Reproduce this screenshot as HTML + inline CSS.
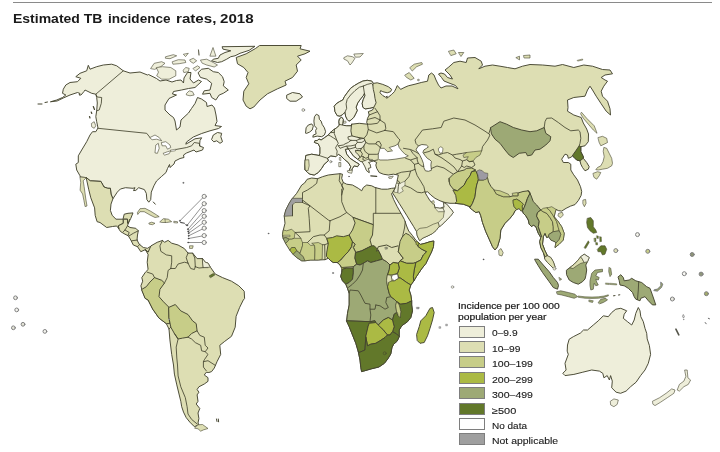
<!DOCTYPE html>
<html><head><meta charset="utf-8">
<title>Estimated TB incidence rates, 2018</title>
<style>
html,body{margin:0;padding:0;background:#fff;}
body{width:720px;height:452px;overflow:hidden;position:relative;font-family:"Liberation Sans",sans-serif;color:#1a1a1a;}
#rule{position:absolute;left:13px;top:1.6px;width:699px;height:1.3px;background:#8a8a8a;}
#map{position:absolute;left:0;top:0;filter:blur(0.4px);}
#map path,#map circle{stroke-linejoin:round;stroke-linecap:round;}
.t{position:absolute;white-space:nowrap;transform-origin:0 0;}
.lb{position:absolute;left:459px;width:24px;height:10px;border:1px solid #7e7e7e;box-sizing:content-box;}
</style></head><body>
<div id="rule"></div>
<svg id="map" width="720" height="452" viewBox="0 0 720 452">
<path d="M50.8,101.7L56.7,100L62.5,97.5L65.8,95L62.5,93.3L63.3,89.2L65.8,85L70,82.5L77.5,81.7L80.8,78.3L75.8,76.7L80,73.3L86.7,70.8L88.3,65.3L90,69.2L96.7,66.7L103.3,65L111.7,64.2L116.7,65.8L123.3,70.8L130,73L140,72L147.5,75L148.5,74.5L156.5,78.5L160,81L166,80L172,82L176.5,80.5L181,80L183.5,83L184,78L187.5,72.5L191,72.5L190,79L193.5,83L198.5,80L201.5,81.5L195,87.5L188.5,88.5L181.5,90L173.5,91.5L172.5,94L176.5,95L169,98.5L165,105L165,110L170,115L173.5,117.5L175,121L176.5,130L180,127L181,120L188.5,113L191.5,108.5L195,103.5L197.5,97.5L201.5,99L206.5,102.5L207,106.5L212,105L214.5,108L216,115L217,121.5L215,125.5L221.5,126.5L218.5,128.5L210,130.8L201.7,133.5L193.3,137L186.5,142L185.8,144.2L190,141.8L195,138.8L201.7,137.8L200,140.5L199.5,146L203.5,147.5L202.5,150L196,152L194,150L186.5,153L183.5,155L184,157.5L180,158.5L175,161L174,164L170,167.5L169.5,164.5L167.5,168.5L166,172.5L161.5,176.5L156.5,181L153.9,185.8L151.3,192.1L150.7,199.7L148.8,202.2L146.9,199.7L146.3,193.4L144.4,189.6L138.7,187.7L135.8,190.4L133.5,190.6L135,187.7L133,188.3L125.5,187.7L120.4,189L117.3,192.1L112.9,198.8L111,194L110.4,188.3L107.8,188.3L104,187L100.9,181.4L90.2,180.8L86.4,177.6L80.3,177L80,175.8L76.7,170L75.8,164.2L78.3,162.5L78.3,155.8L81.7,150L86.7,141.7L90,135L92.5,131.7L95.8,131.7L98,128L96.7,121.7L95.8,116.7L96.7,110.8L97.3,103L96.7,97.5L95.8,94.2L91.7,93.3L85,90L84,91.5L81,95L79,95L80,93.5L77.5,92.5L70,95L63.3,98L57.5,100.8Z" fill="#eeeeda" stroke="#44442f" stroke-width="0.95"/>
<path d="M123.3,70.8L95.8,94.2L97.2,97L101.7,97.5L101.3,103.3L99.2,110L96.7,110.8" fill="none" stroke="#44442f" stroke-width="0.85"/>
<path d="M98,128.3L130,131.6L146.7,133.3L150,137.5" fill="none" stroke="#44442f" stroke-width="0.85"/>
<path d="M175.8,149.5L186.7,147.5L191.7,145.8L194.2,142.5L199.2,143.3L200,145.8" fill="none" stroke="#44442f" stroke-width="0.85"/>
<path d="M150,137.5L155,135L159.2,137.5L161.7,140.8L156.7,139.2L152.5,139.7Z" fill="#ffffff" stroke="#44442f" stroke-width="0.6"/>
<path d="M155,152.5L155.8,145L158.3,143.3L159.2,148.3L157.5,153Z" fill="#ffffff" stroke="#44442f" stroke-width="0.6"/>
<path d="M161.7,142.5L165.8,141.7L170,145L170.8,147.5L167.5,149.2L165.8,145.8L162.5,145.8Z" fill="#ffffff" stroke="#44442f" stroke-width="0.6"/>
<path d="M163.3,153.3L167.5,151.7L170.8,150.8L169.2,153.7L165,155Z" fill="#ffffff" stroke="#44442f" stroke-width="0.6"/>
<path d="M170.8,150L175.8,149.2L175.3,150.8L171.7,151.3Z" fill="#ffffff" stroke="#44442f" stroke-width="0.5"/>
<path d="M211.7,139.2L213.3,135L217.5,132.5L221.7,133.3L220.8,136.7L222.5,141.7L220,143.3L216.7,140.8L214.2,141.7Z" fill="#eeeeda" stroke="#44442f" stroke-width="0.95"/>
<path d="M186.7,93.3L189.2,90.8L192.5,91.7L194.2,95L190,95.8L186.7,95Z" fill="#eeeeda" stroke="#44442f" stroke-width="0.6"/>
<path d="M198.3,72.5L201.7,69.2L208.3,68.3L213.3,71.7L218.3,72.5L222.5,76.7L224.2,81.7L223.3,85.8L228.3,90L223.3,93.3L219.2,95L215.8,100L211.7,97.5L210,93.3L202.5,94.2L204.2,90.8L210,90L211.7,83.3L206.7,79.2L200.8,77.5Z" fill="#eeeeda" stroke="#44442f" stroke-width="0.95"/>
<path d="M222.5,46.7L255,46.3L249.2,50.3L240,53.3L235,55.8L230.8,56.7L226.7,59.2L221.7,61.7L217.5,62.5L211.7,60.8L213.3,59.2L218.3,58.3L220,55L225,52.5L230.8,50.8L223.3,49.2Z" fill="#eeeeda" stroke="#44442f" stroke-width="0.95"/>
<path d="M210,55.8L213,47.5L215.8,55.8Z" fill="#eeeeda" stroke="#44442f" stroke-width="0.6"/>
<path d="M165.8,56.7L173.3,54.7L176.7,55.8L170,58.7L165.8,58.3Z" fill="#eeeeda" stroke="#44442f" stroke-width="0.6"/>
<path d="M172.5,61.7L178.3,59.7L185,60L185.8,62.5L179.2,63.7L173.3,64.2Z" fill="#eeeeda" stroke="#44442f" stroke-width="0.6"/>
<path d="M183.7,54.2L188.3,53.3L185.8,56.3Z" fill="#eeeeda" stroke="#44442f" stroke-width="0.6"/>
<path d="M190,59.7L193.3,58.3L196.7,60.8L193.3,63.3L190.8,61.7Z" fill="#eeeeda" stroke="#44442f" stroke-width="0.6"/>
<path d="M200.8,60L206.7,59.2L213.3,62.5L217.5,65L214.2,67L206.7,65L202.5,63.3Z" fill="#eeeeda" stroke="#44442f" stroke-width="0.6"/>
<path d="M150.8,68.3L154.2,63.3L161.7,61.7L165,63.3L160.8,66.7L155,69.2Z" fill="#eeeeda" stroke="#44442f" stroke-width="0.6"/>
<path d="M156.7,67.5L162.5,66.7L170.8,67.5L175.8,70.8L175.8,75.8L169.2,79.2L161.7,79.2L156.7,75.8L158.3,72.5Z" fill="#eeeeda" stroke="#44442f" stroke-width="0.6"/>
<path d="M183.3,70L185.8,67.5L189.2,68.3L188.3,71.7L184.2,72.5Z" fill="#eeeeda" stroke="#44442f" stroke-width="0.6"/>
<path d="M193.3,68.3L197.5,65.8L200,67.5L195.8,70.8Z" fill="#eeeeda" stroke="#44442f" stroke-width="0.6"/>
<path d="M198.5,50L199,55Z" fill="#eeeeda" stroke="#44442f" stroke-width="0.6"/>
<path d="M260,45.5L301.2,45.5L300,48.8L310,51.2L305,53.8L297.5,56.2L301.2,60L296.2,65L297.5,71.2L292.5,77.5L285,81.2L286.2,85L277.5,88.8L267.5,93.8L260,100L253.8,107L250,108.8L246.2,106.2L243,100L243.8,91.2L248.8,83.8L246.2,77.5L248,72.5L243.8,67.5L237.5,63.8L236.2,57.5L246.2,53.8L255,48.8Z" fill="#dddeb3" stroke="#44442f" stroke-width="0.95"/>
<path d="M287,95L292.5,92.5L300,93.8L302.5,97L296.2,101.2L290,101.2L287,98.8Z" fill="#eeeeda" stroke="#44442f" stroke-width="0.95"/>
<path d="M38,104L42,104" fill="none" stroke="#44442f" stroke-width="1"/>
<path d="M45,102.5L47.5,102" fill="none" stroke="#44442f" stroke-width="1"/>
<path d="M91.7,123.3L94.2,121.7L95.8,125.8L94.2,128.3L92,127Z" fill="#eeeeda" stroke="#44442f" stroke-width="0.6"/>
<path d="M93.3,106.5L94.5,109.5" fill="none" stroke="#44442f" stroke-width="1.2"/>
<path d="M91.2,112L91.8,113.5" fill="none" stroke="#44442f" stroke-width="1.2"/>
<path d="M89.5,116.5L90,118" fill="none" stroke="#44442f" stroke-width="1.2"/>
<path d="M86.4,177.6L90.2,180.8L100.9,181.4L104,187L107.8,188.3L110.4,188.3L111,194L112.9,198.8L111,204.1L110.4,210.4L112.2,215.4L116,219.2L123,219.2L124.2,214.2L128,213.3L133,212.9L130.8,218.3L128.3,223.3L127.5,223.3L127.5,219.2L123.3,219.2L123.3,223.3L118.3,225.8L119.2,229.2L116.7,226L112.5,226.5L106.7,227.5L100,222.5L97.1,221.7L95.2,215.4L94.6,207.9L90.8,197.8L88.9,190.2Z" fill="#dddeb3" stroke="#44442f" stroke-width="0.95"/>
<path d="M80.3,177L86.4,177.6L83.2,180.8L84.1,186.4L84.9,192.1L85.8,199L87,206L85.1,206.6L83.9,200.3L82.6,194L80.1,190.2L80.7,182.7Z" fill="#dddeb3" stroke="#44442f" stroke-width="0.6"/>
<path d="M119.2,229.2L118.3,225.8L123.3,223.3L123.3,219.2L127.5,219.2L127.5,223.3L128.3,223.3L127.5,225.8L130,227.5L135.8,228.3L138.3,230.8L137.5,235L137,240L139.2,244.2L143.3,247.5L147.5,248.3L150,246.7L152.5,245.8L148.1,252.2L150,250.8L148.3,252.5L145,249.8L140.8,251.7L137.5,246.7L133.3,245L130.8,240L128.3,235.8L125,234.2L120.8,231.7Z" fill="#dddeb3" stroke="#44442f" stroke-width="0.95"/>
<path d="M127.5,225.8L125,230L123.3,231.7" fill="none" stroke="#44442f" stroke-width="0.85"/>
<path d="M125,230L129.2,232.5L128,235.5" fill="none" stroke="#44442f" stroke-width="0.85"/>
<path d="M129.2,235.8L133.3,233.3L138.3,230.8" fill="none" stroke="#44442f" stroke-width="0.85"/>
<path d="M131.7,240.8L137.5,240" fill="none" stroke="#44442f" stroke-width="0.85"/>
<path d="M137.5,246.7L140,244.2" fill="none" stroke="#44442f" stroke-width="0.85"/>
<path d="M128.3,223.3L129.5,219.5" fill="none" stroke="#44442f" stroke-width="0.85"/>
<path d="M137.5,212.5L140,208.7L145,208.3L150.8,211.3L156.7,215L159.2,216.7L155,217.5L150,215L144.2,211.7L140,211.7L138,214.2Z" fill="#dddeb3" stroke="#44442f" stroke-width="0.6"/>
<path d="M149.2,223L151.7,222.2L155,223.3L152.5,224.7L149.5,224.2Z" fill="#dddeb3" stroke="#44442f" stroke-width="0.6"/>
<path d="M160,221.7L163.3,218.7L168.3,219.2L171.7,221.7L166.7,222.5L162.5,222.5Z" fill="#dddeb3" stroke="#44442f" stroke-width="0.6"/>
<path d="M165,219L165.3,222.5" fill="none" stroke="#44442f" stroke-width="0.5"/>
<path d="M174.2,221.3L177.5,221.7L177.5,223L174.2,222.7Z" fill="#eeeeda" stroke="#44442f" stroke-width="0.6"/>
<path d="M153.3,202L155.3,204.2" fill="none" stroke="#44442f" stroke-width="1"/>
<path d="M189.9,245.8L193.2,245.8L192.5,248.4L189.9,248.4Z" fill="#dddeb3" stroke="#44442f" stroke-width="0.6"/>
<path d="M202.7,197.9L179.9,220.8" fill="none" stroke="#4a4a4a" stroke-width="0.6"/>
<circle cx="204.2" cy="196.4" r="2.1" fill="#f6f6f0" stroke="#7a7a7a" stroke-width="0.9"/>
<circle cx="179.9" cy="220.8" r="0.6" fill="#444" stroke="#444" stroke-width="0.4"/>
<path d="M202.9,205.3L187.2,225.2" fill="none" stroke="#4a4a4a" stroke-width="0.6"/>
<circle cx="204.2" cy="203.7" r="2.1" fill="#f6f6f0" stroke="#7a7a7a" stroke-width="0.9"/>
<circle cx="187.2" cy="225.2" r="0.6" fill="#444" stroke="#444" stroke-width="0.4"/>
<path d="M202.8,212.2L187.9,229.2" fill="none" stroke="#4a4a4a" stroke-width="0.6"/>
<circle cx="204.2" cy="210.6" r="2.1" fill="#f6f6f0" stroke="#7a7a7a" stroke-width="0.9"/>
<circle cx="187.9" cy="229.2" r="0.6" fill="#444" stroke="#444" stroke-width="0.4"/>
<path d="M202.7,217.7L188.2,231.4" fill="none" stroke="#4a4a4a" stroke-width="0.6"/>
<circle cx="204.2" cy="216.3" r="2.1" fill="#f6f6f0" stroke="#7a7a7a" stroke-width="0.9"/>
<circle cx="188.2" cy="231.4" r="0.6" fill="#444" stroke="#444" stroke-width="0.4"/>
<path d="M202.5,223.5L188.6,233.2" fill="none" stroke="#4a4a4a" stroke-width="0.6"/>
<circle cx="204.2" cy="222.3" r="2.1" fill="#f6f6f0" stroke="#7a7a7a" stroke-width="0.9"/>
<circle cx="188.6" cy="233.2" r="0.6" fill="#444" stroke="#444" stroke-width="0.4"/>
<path d="M202.3,229.1L188.6,235.8" fill="none" stroke="#4a4a4a" stroke-width="0.6"/>
<circle cx="204.2" cy="228.2" r="2.1" fill="#f6f6f0" stroke="#7a7a7a" stroke-width="0.9"/>
<circle cx="188.6" cy="235.8" r="0.6" fill="#444" stroke="#444" stroke-width="0.4"/>
<path d="M202.1,236L188.6,238.5" fill="none" stroke="#4a4a4a" stroke-width="0.6"/>
<circle cx="204.2" cy="235.6" r="2.1" fill="#f6f6f0" stroke="#7a7a7a" stroke-width="0.9"/>
<circle cx="188.6" cy="238.5" r="0.6" fill="#444" stroke="#444" stroke-width="0.4"/>
<path d="M202.1,242.5L188.2,242.5" fill="none" stroke="#4a4a4a" stroke-width="0.6"/>
<circle cx="204.2" cy="242.5" r="2.1" fill="#f6f6f0" stroke="#7a7a7a" stroke-width="0.9"/>
<circle cx="188.2" cy="242.5" r="0.6" fill="#444" stroke="#444" stroke-width="0.4"/>
<path d="M180.6,222.4L184.4,223.3" fill="none" stroke="#555" stroke-width="1.1"/>
<path d="M185.8,224.6L187,225.6" fill="none" stroke="#555" stroke-width="1.1"/>
<circle cx="183.3" cy="182.8" r="0.6" fill="#444" stroke="#444" stroke-width="0.3"/>
<path d="M145.4,249.5L148.1,252.2L150.9,245.9L157.2,242.3L162.6,240.4L164.5,242.3L168.1,240.4L171.7,243.2L178.1,245L184.4,248.6L188,253.1L192.6,253.1L197.1,258.6L202.5,258.6L205.2,262.2L208,263.1L210.7,267.6L215.2,274L222.5,277.6L231.5,281.2L238.8,285.8L244.2,291.2L244.6,298.5L243.3,300L239.7,307.3L236.1,316.3L235.2,327.2L231.5,336.3L224.3,341.7L219.8,345.3L220.7,354.4L217,361.7L214.3,368L211.6,371.6L208.9,372.5L206.2,372.3L204.3,375L208,377.7L208,381.3L204.3,384L198.9,386.8L197.1,389.5L198.9,392.2L197.1,394.9L198,401.3L196.2,404L199.8,408.5L198,413L198.9,418.5L198,423L198.9,424.8L197.1,425.5L194.4,426.7L189.8,422.1L186.2,417.6L183.5,412.1L181.7,406.7L180.8,401.3L179,394L176.8,384.9L174.4,374.1L173.5,365L171.7,354.4L169.9,339.9L169,329L166.3,323.6L159,318.1L152.7,309.1L148.1,300L145.4,298.5L141.8,289.4L140.9,285.8L142.7,281.2L141.8,277.6L145.4,272.2L148.1,269.5L147.2,262.2L148.1,254.9Z" fill="#dddeb3" stroke="#44442f" stroke-width="0.95"/>
<path d="M198,424.8L202.5,424.5L208,428.5L203.4,429.9L200.7,431.2L198,428.8L195,428.3Z" fill="#dddeb3" stroke="#44442f" stroke-width="0.6"/>
<path d="M141.8,289.4L146.3,286.7L149.9,282.1L154.5,277.6L161.7,280.3L164.5,283L159.9,289.4L159,296.7L163.5,301.8L169,307.3L169,318.1L169.9,323.6L166.3,323.6L159,318.1L152.7,309.1L148.1,300L145.4,298.5Z" fill="#c7cd88" stroke="#44442f" stroke-width="0.95"/>
<path d="M169,307.3L175.3,304.5L180.8,310.9L188,314.5L192.6,320.9L196.2,323.6L197.1,330.8L191.6,333.5L188,337.2L182.6,338.1L178.1,339L174.4,333.5L170.8,327.2L169,318.1Z" fill="#c7cd88" stroke="#44442f" stroke-width="0.95"/>
<path d="M147.2,272.2L152.7,274L154.5,277.6" fill="none" stroke="#44442f" stroke-width="0.85"/>
<path d="M162.6,240.4L159.9,245.9L160.8,251.3L166.3,254.9L171.7,255.8L171.7,262.2L170.8,268.5" fill="none" stroke="#44442f" stroke-width="0.85"/>
<path d="M170.8,268.5L168.1,270.4L167.2,277.6L164.5,283" fill="none" stroke="#44442f" stroke-width="0.85"/>
<path d="M170.8,268.5L175.3,268.5L178.1,264L184.4,262.2L188,263.1" fill="none" stroke="#44442f" stroke-width="0.85"/>
<path d="M188,253.1L186.2,257.7L188,263.1" fill="none" stroke="#44442f" stroke-width="0.85"/>
<path d="M188,263.1L190.7,268.5L194.4,269.5L195.3,266.7" fill="none" stroke="#44442f" stroke-width="0.85"/>
<path d="M192.6,253.1L194.8,258L195.3,266.7" fill="none" stroke="#44442f" stroke-width="0.85"/>
<path d="M195.3,266.7L199,268L203.4,267.6L208,267.6" fill="none" stroke="#44442f" stroke-width="0.85"/>
<path d="M202.5,258.6L203.4,267.6" fill="none" stroke="#44442f" stroke-width="0.85"/>
<path d="M202.5,258.6L205.2,262.2L208,263.1L210.2,267.2L203.4,267.6Z" fill="#eeeeda" stroke="#44442f" stroke-width="0.6"/>
<path d="M209.4,275.8L213.4,273.4L214.9,274.9L210.7,277.6Z" fill="#62782a" stroke="#44442f" stroke-width="0.6"/>
<path d="M188,337.2L191.6,339L195.3,342.6L200.7,345.3L201.6,350.8L205.2,351.7L208,348L205.2,345.3L204.3,337.2L199.8,335.4L197.1,330.8" fill="none" stroke="#44442f" stroke-width="0.85"/>
<path d="M205.2,351.7L208,354.4L204.3,359.8L203.4,361.7L203.4,367.1L206.2,370.7" fill="none" stroke="#44442f" stroke-width="0.85"/>
<path d="M203.4,361.7L208,360.7L215.2,365.3" fill="none" stroke="#44442f" stroke-width="0.85"/>
<path d="M174.4,333.5L178.1,339L176.2,347.1L176.8,358L177.5,365L178.1,375.9L180.8,386.8L185.3,397.6L187.1,406.7L188,414L191.6,419.4L197.1,423.9" fill="none" stroke="#44442f" stroke-width="0.85"/>
<path d="M169,329L170.8,327.2" fill="none" stroke="#44442f" stroke-width="0.85"/>
<path d="M216.5,419L217,421.5" fill="none" stroke="#44442f" stroke-width="1"/>
<path d="M218.3,419L218.6,421.8" fill="none" stroke="#44442f" stroke-width="1"/>
<circle cx="169" cy="319.3" r="0.6" fill="#fff" stroke="#666" stroke-width="0.3"/>
<path d="M334.4,106.1L336.1,103.9L339.4,101.7L342.8,100L344.4,96.7L347.2,92.8L350.6,88.3L354.4,85.6L358.3,83.3L362.8,81.1L367.2,80.3L371.7,81.1L373.3,83.3L373.9,83.3L377.2,82.8L382.8,84.4L388.3,86.7L391.7,89.4L390.6,91.7L387.2,92.8L382.8,91.7L380.6,90.6L380,92.8L382.8,95.6L385.6,97.2L387.2,96.1L386.7,98.3L388.9,96.7L391.7,94.4L394.4,91.7L396.1,88.3L397.2,85.6L398.9,87.2L400.6,89.4L405,87.2L408.3,85.8L415,84.2L421.2,82.5L427.5,81.2L428.8,75L431.5,73L434,75L436,80L438.5,85L441,88L446,86L452,86L458,88.8L455.5,85.5L449,83L444,81L441.5,77.5L438.5,74L441,73L444.5,74L447.5,77.5L452.5,79L450,75L445,70L448.8,67L453.8,62.5L460,61.2L466.2,62.5L467.5,58L475,57.5L481.2,61.2L482.5,65L478.8,68.8L485,66.2L492.5,65L500,66.2L507.5,67.5L515,68.8L522.5,66.2L530,64.5L542.5,65L555,66.2L562.5,64.5L573.8,67.5L583.8,65L592.5,66.2L602.5,69.5L610,70L612.5,73.8L605,75L601.2,77.5L605,80L607.5,81.2L603.8,86.2L601.2,91.2L602.5,96.2L607.5,101.2L610,108.8L610.5,115L606.2,111.2L601.2,103.8L596.2,96.2L592.5,90L590,86.2L587.5,90L585,96.2L573.8,97.5L567.5,100L568,107.5L567.5,111.2L573.8,115L581.2,117.5L583.3,123L586.7,129L588.5,134L588.3,141.7L585,145.8L580.8,146.7L580.8,151.7L583.3,156.7L583.3,158.3L586.7,162.5L589.2,166.7L588.3,169.2L585,170.8L582.5,167.5L580.8,164.2L580,160.8L576.7,160L574.2,157.5L572.5,155.5L571.5,157L568.3,158.3L567.5,155L565,154.2L561.7,159.2L563.3,162.5L568.3,162.5L570.8,164.2L570.8,170L573.3,174.2L577.5,180L580.5,186.7L581.7,191.5L581.1,195.5L578.3,200.6L575,204.6L570.6,206.1L566.1,208.3L561.7,211.1L558.3,210.6L556.1,209.4L555,212.8L554.2,216.8L557.5,220.6L561.7,226.7L564.2,233.3L563.3,240L559.2,244.2L555,247.5L555.8,243.3L555,241.7L550.8,240L548.7,236.7L546.7,237.5L545,233.3L543.3,236.7L542.5,244.2L545,250.8L547.5,255.8L550.8,257.5L553.3,261.7L555,266.7L554.2,269.2L550.8,265.8L547.5,262.5L545,259.2L543.3,252.5L540.8,247.5L539.7,241.7L540.8,237.5L538.3,233.3L535.8,226.7L533.3,225L531.7,226.7L529.2,224.2L528.3,220L525.8,215.8L523.3,213.3L522.5,210.8L520.8,210.8L519.2,208.5L516.7,209.5L515,210.8L513.3,214.2L510,218.3L505,223.3L500.8,230L500,238.3L497.5,246.7L495,250L492.5,246.7L489.2,239.2L485.8,231.7L482.5,222.5L480.8,215.8L479.2,211.7L475.8,212.5L472.5,210L470,207.5L470,206.7L463.3,204.2L455,203.3L450,203.3L445,202.5L440,200.8L435,198.3L430.8,195L427.5,191.7L425,192.5L427.5,196.7L430,200.8L434.2,204.2L435,207.5L440,208.3L444.2,206.7L443.3,202.5L446.7,204.2L451.7,210L453.3,212.5L450,216.7L445.8,220.8L441.7,225L438.3,227.5L436,230.5L432.5,233.5L428,235.8L423,238L420.5,240L419.5,240.3L417.3,236L416.6,231.7L413.7,226.7L410.1,220.9L406.6,215.2L403,209.4L399.4,203.7L395.8,197.9L392.5,192.9L394,190L395,188L396.7,183.3L397.5,179.2L398.3,175L393.3,174.2L388.3,175L383.3,174.2L379.2,172.5L376.7,168.3L375.8,165L376.7,162.5L375,161.7L373.3,160.8L368.3,162.5L370,164.2L370.8,167.5L368.3,168.3L369.2,172.5L366.7,170.8L365,166.7L362.5,161.7L360.8,161.7L357.5,159.2L353.3,155.8L350.5,151.8L348.2,148.8L345.3,149.3L346.7,154.2L350,158.3L355,161.7L359.2,164.2L357.5,166.7L354.2,165.8L352.5,168.3L350.8,171.7L349.2,170.8L350.8,166.7L348.3,162.5L344.2,159.2L340.8,155.8L338.3,154.2L335.8,156.7L330.8,155.8L327.5,158.3L328.3,160.8L324.2,164.2L321.7,168.3L318.3,172.5L314.2,175L310,174.2L307.5,172.5L305,170L305,165L305.3,160L305.8,155.5L311.7,154.2L319.2,155.5L320,153.3L320,147.5L318.3,143.8L314.4,142.4L315,140.6L317.2,140.6L319,139L321.1,140L324.4,137.8L328.3,135L330,132.8L333.3,130L336.7,127.8L339.2,125.5L339.2,124.2L338.9,121.7L339.4,118.9L341.7,117.2L343.3,119.4L342.8,123.3L342.5,125L343.3,125.3L346.7,125.8L350.8,125.8L351.7,124.2L359.2,123.3L367.5,124.2L366.7,122.5L367.5,118.3L369.2,115L368.3,111.7L372.5,110L373.9,107.2L369.4,108.3L365,108.9L362.8,107.2L362.2,103.3L363.3,99.4L365,95.6L364.4,93.3L363.3,95.6L360.6,98.9L357.8,102.8L356.1,107.2L357.2,110.6L355.6,113.9L353.9,117.2L351.1,120L348.9,121.1L347.2,119.4L345.6,116.1L345,112.2L342.8,114.4L340,116.1L337.2,115.6L335,111.7L334.4,107.2Z" fill="#dddeb3" stroke="#44442f" stroke-width="0.95"/>
<path d="M334.4,106.1L336.1,103.9L339.4,101.7L342.8,100L344.4,96.7L347.2,92.8L350.6,88.3L354.4,85.6L358.3,83.3L362.8,81.1L367.2,80.3L371.7,81.1L373.3,83.3L372.8,85L373.3,89.4L374.4,93.9L375,98.3L376.1,102.8L373.9,107.2L369.4,108.3L365,108.9L362.8,107.2L362.2,103.3L363.3,99.4L365,95.6L364.4,93.3L363.3,95.6L360.6,98.9L357.8,102.8L356.1,107.2L357.2,110.6L355.6,113.9L353.9,117.2L351.1,120L348.9,121.1L347.2,119.4L345.6,116.1L345,112.2L342.8,114.4L340,116.1L337.2,115.6L335,111.7L334.4,107.2Z" fill="#eeeeda" stroke="#44442f" stroke-width="0.95"/>
<path d="M345,112.2L346.7,108.3L346.1,103.9L347.2,99.4L350.6,95L355,90.6L359.4,87.2L363.3,86.1" fill="none" stroke="#44442f" stroke-width="0.85"/>
<path d="M364.4,93.3L363.3,86.1" fill="none" stroke="#44442f" stroke-width="0.85"/>
<path d="M363.3,86.1L367.2,84.4L371.7,83.3L372.8,85" fill="none" stroke="#44442f" stroke-width="0.85"/>
<path d="M351.7,124.2L351.4,126L350.9,130.9L351.9,135.9L357.9,137.4L363.9,138.4L364.9,140.4L365.8,142.4L363.9,145.9L361.4,148.4L360.4,150.8L355.4,150.3L355.9,152.3L358.4,154.8L360.2,157.3L357.5,159.2L353.3,155.8L350.5,151.8L348.2,148.8L345.3,149.3L346.7,154.2L350,158.3L355,161.7L359.2,164.2L357.5,166.7L354.2,165.8L352.5,168.3L350.8,171.7L349.2,170.8L350.8,166.7L348.3,162.5L344.2,159.2L340.8,155.8L338.3,154.2L335.8,156.7L330.8,155.8L327.5,158.3L328.3,160.8L324.2,164.2L321.7,168.3L318.3,172.5L314.2,175L310,174.2L307.5,172.5L305,170L305,165L305.3,160L305.8,155.5L311.7,154.2L319.2,155.5L320,153.3L320,147.5L318.3,143.8L314.4,142.4L315,140.6L317.2,140.6L319,139L321.1,140L324.4,137.8L328.3,135L330,132.8L333.3,130L336.7,127.8L339.2,125.5L339.2,124.2L338.9,121.7L339.4,118.9L341.7,117.2L343.3,119.4L342.8,123.3L342.5,125L343.3,125.3L346.7,125.8L350.8,125.8Z" fill="#eeeeda" stroke="#44442f" stroke-width="0.95"/>
<path d="M305.3,160L308.7,159.7L309.2,165.8L308,170.8L305.3,170.3L305,165Z" fill="#dddeb3" stroke="#44442f" stroke-width="0.6"/>
<path d="M362.5,161.7L365,160.5L368.3,159.2L372.5,159.5L373.3,160.8L368.3,162.5L370,164.2L370.8,167.5L368.3,168.3L369.2,172.5L366.7,170.8L365,166.7Z" fill="#eeeeda" stroke="#44442f" stroke-width="0.6"/>
<path d="M370.8,175.8L376.7,176.3" fill="none" stroke="#44442f" stroke-width="1.2"/>
<path d="M388.9,176.9L393.3,176.1L391.7,178.3L389.4,178.3Z" fill="#eeeeda" stroke="#44442f" stroke-width="0.6"/>
<path d="M316.7,114.4L318.9,115.6L319.4,119.4L321.1,121.1L322.2,124.4L324.4,127.8L325.6,131.7L324.4,135L321.7,136.7L317.2,136.1L312.8,137.2L313.3,135L316.1,133.9L315.6,130.6L316.7,128.3L314.4,125.6L313.9,121.1L314.4,117.2Z" fill="#eeeeda" stroke="#44442f" stroke-width="0.95"/>
<path d="M305.6,132.8L306.1,127.8L308.3,125L311.7,123.9L313.3,126.1L312.2,130L309.4,132.2L306.7,133.3Z" fill="#eeeeda" stroke="#44442f" stroke-width="0.95"/>
<circle cx="303.3" cy="110" r="1.4" fill="#eeeeda" stroke="#666" stroke-width="0.6"/>
<path d="M347.5,170.8L352.5,170L351.7,173.3L348.3,172.5Z" fill="#eeeeda" stroke="#44442f" stroke-width="0.6"/>
<path d="M339.2,162.5L340.8,162.5L340.8,166.7L339.2,166.7Z" fill="#eeeeda" stroke="#44442f" stroke-width="0.6"/>
<path d="M339.7,157.5L340.8,157.5L340.8,160.8L339.7,160.3Z" fill="#eeeeda" stroke="#44442f" stroke-width="0.5"/>
<circle cx="330.8" cy="161.7" r="1.1" fill="#eeeeda" stroke="#555" stroke-width="0.5"/>
<circle cx="349" cy="176.5" r="0.5" fill="#444" stroke="#444" stroke-width="0.3"/>
<path d="M319.2,155.5L327.5,158.3" fill="none" stroke="#44442f" stroke-width="0.85"/>
<path d="M328.3,135L330.6,136.1L333.3,137.8L336.7,140L338.3,143.3L336.7,145.6L335.6,147.8L337.2,151.1L336.7,154.4" fill="none" stroke="#44442f" stroke-width="0.85"/>
<path d="M334.5,129.3L334.2,133.3L336.7,140" fill="none" stroke="#44442f" stroke-width="0.85"/>
<path d="M330.5,132.7L334.3,132.3" fill="none" stroke="#44442f" stroke-width="0.85"/>
<path d="M338.3,145.8L343.3,145L345,143.9L348.4,142.4L350.9,140.4" fill="none" stroke="#44442f" stroke-width="0.85"/>
<path d="M350.9,140.4L348.4,139.4L347.9,136.9L351.9,135.9" fill="none" stroke="#44442f" stroke-width="0.85"/>
<path d="M350.9,140.4L356.4,140.4L360.4,138.9" fill="none" stroke="#44442f" stroke-width="0.85"/>
<path d="M357.9,137.4L360.4,138.9L363.9,138.4" fill="none" stroke="#44442f" stroke-width="0.85"/>
<path d="M356.4,140.4L357.4,142.4L361.9,142.4L364.9,140.4" fill="none" stroke="#44442f" stroke-width="0.85"/>
<path d="M346.9,146.1L350.9,145.9L355.4,144.9L357.4,142.4" fill="none" stroke="#44442f" stroke-width="0.85"/>
<path d="M338.3,145.8L340,148.3L345,146.5L346.9,146.1L347.4,147.9L348.2,148.8" fill="none" stroke="#44442f" stroke-width="0.85"/>
<path d="M355.4,144.9L355.4,147.4L357.4,148.9L361.4,148.4" fill="none" stroke="#44442f" stroke-width="0.85"/>
<path d="M347.4,147.9L349.9,148.9L355.4,147.4" fill="none" stroke="#44442f" stroke-width="0.85"/>
<path d="M339.5,124.5L342.4,125" fill="none" stroke="#44442f" stroke-width="0.85"/>
<path d="M367.5,124.2L368.3,129.5L366.8,134.9L363.9,138.4" fill="none" stroke="#44442f" stroke-width="0.85"/>
<path d="M367.5,124.2L371,124.2L377.5,123.3L380,120" fill="none" stroke="#44442f" stroke-width="0.85"/>
<path d="M367.5,119.5L375,117.5L380,120" fill="none" stroke="#44442f" stroke-width="0.85"/>
<path d="M369.2,115L377.5,111.7" fill="none" stroke="#44442f" stroke-width="0.85"/>
<path d="M375,108.3L377.5,111.7L380,115.8L380,120" fill="none" stroke="#44442f" stroke-width="0.85"/>
<path d="M380,120L385,123.3L385.8,128.3L384.8,130.4" fill="none" stroke="#44442f" stroke-width="0.85"/>
<path d="M368.3,129.5L376.8,132.9L384.8,130.4" fill="none" stroke="#44442f" stroke-width="0.85"/>
<path d="M384.8,130.4L393.3,131.7L398.3,138.3L400,140L398,144" fill="none" stroke="#44442f" stroke-width="0.85"/>
<path d="M365.8,142.4L368.8,143.9L375.8,143.9L376.8,141.9L379.3,141.4L381.3,144.9L380.3,147.9" fill="none" stroke="#44442f" stroke-width="0.85"/>
<path d="M375.8,143.9L378.8,145.9L380.3,147.9" fill="none" stroke="#44442f" stroke-width="0.85"/>
<path d="M363.9,145.9L363.9,148.9L365.3,151.8L368.8,154.3L376.8,154.3L380.3,153.3" fill="none" stroke="#44442f" stroke-width="0.85"/>
<path d="M368.8,154.3L368.3,157.3L369.3,160.3L373.8,160.8L377.8,159.8" fill="none" stroke="#44442f" stroke-width="0.85"/>
<path d="M360.4,150.8L362.4,153.8L361.4,156.3L363.4,156.8L365.8,158.3L368.3,157.3" fill="none" stroke="#44442f" stroke-width="0.85"/>
<path d="M361.4,156.3L360.2,157.3" fill="none" stroke="#44442f" stroke-width="0.85"/>
<path d="M363.4,156.8L362.8,159.5L365,160.5" fill="none" stroke="#44442f" stroke-width="0.85"/>
<path d="M378.3,158.3L378.3,154.2L380,148.3L384.2,148.3L387.5,151.7L392.5,150.8L391.7,150L389.2,147.5L395,145.8L398,144L399.2,147.5L401.7,150.8L405,154.2L408.3,155.8L405,157.5L395,159.2L387.5,160L380,160Z" fill="#ffffff" stroke="#44442f" stroke-width="0.7"/>
<path d="M416.4,148.9L418.4,145.9L421.9,144.5L426.4,145L428.4,146.9L426.4,148.4L423.9,149.9L422.9,152.4L424.9,155.4L427.4,158.4L429.9,159.9L431.4,161.4L430.9,164.9L431.4,170.3L428.4,171.3L425.4,170.8L423.9,167.8L423.4,163.4L421.9,159.4L419.9,155.4L417.9,152.4L416.4,150.4Z" fill="#ffffff" stroke="#44442f" stroke-width="0.8"/>
<path d="M438.7,148.3L440.8,146.7L443,148.3L442.5,152.5L440,153.3L438.7,150.8Z" fill="#ffffff" stroke="#44442f" stroke-width="0.6"/>
<path d="M344.2,57.5L347.5,55.8L352.5,56.7L355,58.3L351.7,63.3L350,65L347.5,60.8L344.2,59.2Z" fill="#eeeeda" stroke="#44442f" stroke-width="0.6"/>
<path d="M354.2,54L363.3,53.5L360,57L355.8,57.2Z" fill="#eeeeda" stroke="#44442f" stroke-width="0.6"/>
<path d="M410,67.5L414.2,64.2L421.7,62.5L422.5,64.2L416.7,66.7L412.5,70.8Z" fill="#dddeb3" stroke="#44442f" stroke-width="0.6"/>
<path d="M405,75L409.2,72.5L414.2,78.3L410.8,80L406.7,77.5Z" fill="#dddeb3" stroke="#44442f" stroke-width="0.6"/>
<circle cx="418.3" cy="80" r="0.9" fill="#dddeb3" stroke="#555" stroke-width="0.5"/>
<path d="M448.8,51.2L453.8,50L456.2,53.8L451.2,55.5Z" fill="#dddeb3" stroke="#44442f" stroke-width="0.6"/>
<path d="M458.8,52.5L463.8,52.5L461.2,56.2Z" fill="#dddeb3" stroke="#44442f" stroke-width="0.6"/>
<path d="M516.2,57.5L519.5,56.2L519.5,59.5Z" fill="#dddeb3" stroke="#44442f" stroke-width="0.6"/>
<path d="M523.8,55.5L530,55L530,58L524.5,58Z" fill="#dddeb3" stroke="#44442f" stroke-width="0.6"/>
<path d="M577.5,60.3L582.5,59L582.8,60L578,61Z" fill="#dddeb3" stroke="#44442f" stroke-width="0.5"/>
<path d="M581.7,112.5L586.7,118.3L594.2,125.8L596.5,131.7L597,133.3L593.3,130L588.3,124.2L583.3,118.3L580.8,114.2Z" fill="#dddeb3" stroke="#44442f" stroke-width="0.6"/>
<path d="M343.9,121.3L345.8,121.1L346.1,123L344.2,123.3Z" fill="#eeeeda" stroke="#44442f" stroke-width="0.5"/>
<path d="M418.4,145.9L416,143.5L415,140L422.5,130L432.5,128.8L441.2,127.5L443.8,121.2L453.8,118L465,120L475,125L485,131.2L488.8,133.8L490.8,127.5" fill="none" stroke="#44442f" stroke-width="0.85"/>
<path d="M488.8,133.8L490,135L487.5,140L485,143.3L482.5,146.7L481.7,150.8" fill="none" stroke="#44442f" stroke-width="0.85"/>
<path d="M424,152.8L429,151.5L433.3,149.2L435,154.2L438.3,155L443.3,153.3L447.5,152.5L452.5,155L456.7,154.2L462.5,153.3L466.7,152.5" fill="none" stroke="#44442f" stroke-width="0.85"/>
<path d="M490.8,127.5L500,121.7L506.7,124.2L513.3,127.5L521.7,130L530,131.7L536.7,130.8L544.2,127.5L545.8,133.3L550.8,136.7L550,140.8L545.8,145L540,149.2L535,150L531.7,155L527.5,155.8L525.8,152.5L519.2,153.3L513.3,157.5L509.2,155L505,150L500,143.3L495,139.2L491.7,134.2Z" fill="#9da975" stroke="#44442f" stroke-width="0.95"/>
<path d="M544.2,127.5L545,121.7L546.7,118.3L551.7,118L558.3,122.5L565,127.5L570.8,130.8L578.3,130L580,131.7L580.8,138.3L580,143.3L579.2,145.8" fill="none" stroke="#44442f" stroke-width="0.85"/>
<path d="M572.5,155.5L575.8,150.8L579.2,145.8L580.8,146.7L580.8,151.7L583.3,156.7L583.3,158.3L580,160.8L576.7,160L574.2,157.5Z" fill="#62782a" stroke="#44442f" stroke-width="0.95"/>
<path d="M598.3,137.5L602.5,136.3L606.7,138.3L607.5,142.5L604.2,144.2L600.8,145.8L599.2,142.5Z" fill="#dddeb3" stroke="#44442f" stroke-width="0.6"/>
<path d="M604.2,147.5L606.7,148.3L609.2,153.3L611.7,158.3L612.5,163.3L611.7,165.8L607.5,168.3L602.5,169.2L598.3,170L595.8,169.7L597.5,167.5L600.8,165.8L603,161.7L604.2,156.7L603.3,151.7Z" fill="#dddeb3" stroke="#44442f" stroke-width="0.6"/>
<path d="M593.3,173.3L597.5,171.7L600.8,172.5L599.2,175.8L596.7,179.2L594.2,177.5Z" fill="#dddeb3" stroke="#44442f" stroke-width="0.6"/>
<path d="M583.3,200L585.6,199.4L586.1,203.3L584.4,206.7L583,203.9Z" fill="#dddeb3" stroke="#44442f" stroke-width="0.6"/>
<path d="M558.9,213.3L562.2,212.2L563.3,215L560.6,217.8L558.3,216.1Z" fill="#dddeb3" stroke="#44442f" stroke-width="0.6"/>
<path d="M463.3,155L466.7,152.5L473.3,151.7L481.7,150.8L480,155L475.8,157.5L473.3,160.8L469.2,161.7L466.7,159.2L468.3,156.7L464.2,157.5Z" fill="#c7cd88" stroke="#44442f" stroke-width="0.6"/>
<path d="M462.5,161L466.7,159.7L469.2,161.7L473.3,161.3L475,165L471.7,167.5L466.7,166L464.2,167.5L461.7,166" fill="none" stroke="#44442f" stroke-width="0.85"/>
<path d="M435,154.2L442,158L449,163L454,167L457.5,171.7" fill="none" stroke="#44442f" stroke-width="0.85"/>
<path d="M431.4,168.5L437,166L444,168L449.2,171.5L453.3,174.2" fill="none" stroke="#44442f" stroke-width="0.85"/>
<path d="M452.5,155L455,158L460,159.5L462.5,161L461.7,166L457.5,171.7" fill="none" stroke="#44442f" stroke-width="0.85"/>
<path d="M449.2,178.3L453.3,174.2L457.5,171.7L464.2,170L466.7,168.3L471.7,168L475.8,170L471.7,171.7L470,175.8L466.7,180L464.2,185L457.5,190.8L453.3,189.2L450,185L449.2,181.7Z" fill="#c7cd88" stroke="#44442f" stroke-width="0.95"/>
<path d="M453.3,190L457.5,190.8L464.2,185L466.7,180L470,175.8L471.7,171.7L475.8,170.8L477.5,175L478.3,180L476.7,185L475.8,190L475,196.7L472.5,203.3L470,207.5L470,206.7L463.3,204.2L455,203.3L456.7,201.7L455.8,195.8Z" fill="#abba44" stroke="#44442f" stroke-width="0.95"/>
<path d="M470,207.5L472.5,203.3L475,196.7L475.8,190L476.7,185L478.3,180L483.3,180L487.5,177.5L488.5,182L491,186.5L494.2,190L496.7,194.2L503.3,196.7L510,196.7L513.3,195.8L518,195.8L518,193L523,191.5L528.3,190.8L530,193.3L527.5,198.3L525.8,203.3L524.2,207.5L522.5,210.8L522,206L523.3,204.2L520.8,201.7L516.7,199.2L513.3,200L513.3,203.3L514.2,206.7L516.7,209.5L515,210.8L513.3,214.2L510,218.3L505,223.3L500.8,230L500,238.3L497.5,246.7L495,250L492.5,246.7L489.2,239.2L485.8,231.7L482.5,222.5L480.8,215.8L479.2,211.7L475.8,212.5L472.5,210Z" fill="#c7cd88" stroke="#44442f" stroke-width="0.95"/>
<path d="M477,171L479.5,169.8L482.2,170.6L484.4,172.8L487.8,173.3L487.8,176.1L486.2,179.4L483.3,180L479.2,180L478.3,176.5Z" fill="#9d9aa3" stroke="#44442f" stroke-width="0.5"/>
<path d="M494.2,190L500,190.8L508.3,194.2L510,196.7L503.3,196.7L496.7,194.2Z" fill="#c7cd88" stroke="#44442f" stroke-width="0.6"/>
<path d="M512.5,193.3L517.5,192.5L518,195.8L513.3,195.8Z" fill="#c7cd88" stroke="#44442f" stroke-width="0.6"/>
<path d="M513.3,200L516.7,199.2L520.8,201.7L523.3,204.2L522,206L522.5,210.8L520.8,210.8L519.2,208.5L516.7,209.5L514.2,206.7L513.3,203.3Z" fill="#abba44" stroke="#44442f" stroke-width="0.6"/>
<path d="M498.9,250.2L501,248.5L503.2,252.7L501.9,256L499.4,255.2Z" fill="#dddeb3" stroke="#44442f" stroke-width="0.6"/>
<path d="M528.3,190.8L530.8,195L533.3,201.7L536.7,205L540.8,210L537.5,212.5L536.7,215.8L539.2,221.7L538.3,226.7L540,231.7L541.7,236.7L540.8,237.5L538.3,233.3L535.8,226.7L533.3,225L531.7,226.7L529.2,224.2L528.3,220L525.8,215.8L523.3,213.3L522.5,210.8L524.2,207.5L525.8,203.3L527.5,198.3L530,193.3Z" fill="#9da975" stroke="#44442f" stroke-width="0.95"/>
<path d="M536.7,215.8L537.5,212.5L540.8,210L543.3,211.7L546.7,213.3L550,217.5L552.5,221.7L553.3,226.7L553.3,231.7L549.2,234.2L548.7,236.7L546.7,237.5L545,233.3L543.3,236.7L542.5,244.2L545,250.8L547.5,255.8L545,256.7L543.3,252.5L540.8,247.5L539.7,241.7L540.8,237.5L541.7,236.7L540,231.7L538.3,226.7L539.2,221.7Z" fill="#c7cd88" stroke="#44442f" stroke-width="0.95"/>
<path d="M540.8,210L543.3,208.3L547.5,207.5L550,210.8L553.3,215.8L556.7,221.7L558.3,227.5L559.2,230.8L553.3,231.7L553.3,226.7L552.5,221.7L550,217.5L546.7,213.3L543.3,211.7Z" fill="#c7cd88" stroke="#44442f" stroke-width="0.6"/>
<path d="M547.2,208L551.7,206.7L556.1,209.4L555,212.8L554.2,216.8L557.5,220.6L561.7,226.7L564.2,233.3L563.3,240L559.2,244.2L555,247.5L555.8,243.3L559.2,239.2L560.8,234.2L559.2,230.8L558.3,227.5L556.7,221.7L553.3,215.8L550,210.8Z" fill="#c7cd88" stroke="#44442f" stroke-width="0.6"/>
<path d="M549.2,234.2L553.3,231.7L559.2,230.8L560.8,234.2L559.2,239.2L555.8,243.3L555,241.7L550.8,240L548.7,236.7Z" fill="#9da975" stroke="#44442f" stroke-width="0.6"/>
<path d="M545,256.7L547.5,255.8" fill="none" stroke="#44442f" stroke-width="0.85"/>
<path d="M443.3,208.3L444.2,206.7L443.3,202.5L446.7,204.2L451.7,210L453.3,212.5L450,216.7L445.8,220.8L441.7,225L439.2,226.7L438.3,222.5L443.3,217.5L444.2,211.7Z" fill="#eeeeda" stroke="#44442f" stroke-width="0.6"/>
<path d="M435,207.5L440,208.3L443.3,208.3L444.2,211.7L438.3,211.7L435.8,209.2Z" fill="#eeeeda" stroke="#44442f" stroke-width="0.6"/>
<path d="M419.5,240.3L417.3,236L416.6,231.7L418,229.5L420,228.3L426.7,227.5L433.3,224.2L438.3,222.5L439.2,226.7L438.3,227.5L436,230.5L432.5,233.5L428,235.8L423,238L420.5,240Z" fill="#dddeb3" stroke="#44442f" stroke-width="0.6"/>
<path d="M395.6,187.8L396.1,183.5L398.9,183.3L400,183.3L405,181.1L405,185.6L401.7,187.8L403.3,191.1L399.4,193.3L397,192.5L394.5,192.3L394,190Z" fill="#eeeeda" stroke="#44442f" stroke-width="0.5"/>
<path d="M398.9,183.3L398.3,186.7L397.8,192.2" fill="none" stroke="#44442f" stroke-width="0.85"/>
<path d="M396.5,173.9L401.7,172.2L410.6,171.1L415,169.4" fill="none" stroke="#44442f" stroke-width="0.85"/>
<path d="M410.6,171.1L408.9,176.7L405,181.1" fill="none" stroke="#44442f" stroke-width="0.85"/>
<path d="M400,183.3L398.5,181L397.2,180.2" fill="none" stroke="#44442f" stroke-width="0.85"/>
<path d="M405,185.6L410.6,187.8L417.2,192.2L421.7,192.8L425,191.7" fill="none" stroke="#44442f" stroke-width="0.85"/>
<path d="M415,169.4L417.2,175.6L420.6,181.1L423.9,186.7L425,191.7" fill="none" stroke="#44442f" stroke-width="0.85"/>
<path d="M405.6,158.3L410.6,160L414.4,164.4L415,169.4" fill="none" stroke="#44442f" stroke-width="0.85"/>
<path d="M403.5,148.3L410.6,149.5L415,151.5L418.5,153.5" fill="none" stroke="#44442f" stroke-width="0.85"/>
<path d="M410.6,150L412.8,153.3L417.2,157.8L410.6,160" fill="none" stroke="#44442f" stroke-width="0.85"/>
<path d="M417.2,157.8L417.2,160L418.3,163.3L414.4,164.4" fill="none" stroke="#44442f" stroke-width="0.85"/>
<path d="M418.3,163.3L422,166.3L423.7,166.3" fill="none" stroke="#44442f" stroke-width="0.85"/>
<path d="M449.2,178.3L449.2,181.7" fill="none" stroke="#44442f" stroke-width="0.85"/>
<path d="M432.3,201L433.8,200.6L434.3,202.5L433.3,204.4L432.3,203.5Z" fill="#dddeb3" stroke="#44442f" stroke-width="0.5"/>
<circle cx="483.5" cy="259.4" r="0.6" fill="#666" stroke="#555" stroke-width="0.3"/>
<path d="M307.5,179.2L311.7,178L317.5,178.7L322.5,176.7L328.3,175L335,174.2L340,173.7L342.5,174.2L341.7,178.3L343.3,182.5L346.7,184.2L352.5,185L358.3,188.3L361.7,190.8L363.3,187.5L366.7,185L371.7,185.8L375,187.5L381.7,189.2L387.5,189.2L391.7,188.3L395,188L394,190L392.5,192.5L391.5,193.8L393.6,199.4L397.2,206.6L400.8,213L404.4,219.5L406.6,226L408.7,231L412.3,235.3L415.9,240.3L418.3,242.5L420.5,244.4L425,243.3L430,241.7L433.8,241L433.5,246.5L431.5,252L428.5,258L425.9,263.5L421.5,269L416.3,276.8L413.8,281L410.8,285L409.2,290L410.8,295L411.7,300.8L411.7,305L412.5,310.8L410.8,317.5L407.5,321.7L401.7,325.8L399.2,330L399.2,336.7L397.2,341.1L393.5,344.4L391.9,347.8L390.8,353.9L387.8,358.9L384.4,363.3L378.9,367L371.1,368.9L363.9,371L361.6,371.6L360.8,367.5L360,360L358.3,351.7L355.8,343.3L352.5,335L349.2,326.7L346.7,320.8L347.5,313.3L349.2,305L349.2,300L349.2,293.3L347.5,288.3L345.8,284.2L342.5,280.8L340.8,276.7L341.7,272.5L341.7,268.3L340,265L337.5,262.5L333.3,262.5L330.8,260.8L328.3,258.3L325,259.7L318.3,260L310.8,260L305,260.8L301.7,260.8L296.7,257.5L293.3,254.2L290,250L285.8,243.3L283.3,238.3L282.5,234.2L283.3,230L285,223.3L284.2,215.8L285.8,210L289.2,203.3L292.5,198.3L296.7,193.3L301.7,185L304.2,183.3Z" fill="#dddeb3" stroke="#44442f" stroke-width="0.95"/>
<path d="M292.5,198.3L302.5,198.3L302.5,202.5L295,202.5L292.5,205L292.5,215.8L284.2,216.3L285.8,210L289.2,203.3Z" fill="#9f9f9f" stroke="#44442f" stroke-width="0.6"/>
<path d="M317.5,178.7L316.7,183.3L312.5,186.7L307.5,190L302.5,192.5L302.5,198.3" fill="none" stroke="#44442f" stroke-width="0.85"/>
<path d="M302.5,202.5L302.5,200L310,205.8L328.3,220L330,220.8" fill="none" stroke="#44442f" stroke-width="0.85"/>
<path d="M302.5,202.5L310,205.8L308.3,208.3L309.2,218.3L310,231.7L295,232.5" fill="none" stroke="#44442f" stroke-width="0.85"/>
<path d="M292.5,215.8L292.5,205" fill="none" stroke="#44442f" stroke-width="0.85"/>
<path d="M340,173.7L339.2,180.8L341.7,185L343.3,188.3L341.7,195" fill="none" stroke="#44442f" stroke-width="0.85"/>
<path d="M343.3,182.5L341.7,185.8L343.3,189.2" fill="none" stroke="#44442f" stroke-width="0.85"/>
<path d="M341.7,189.2L341.7,201.7L345,210L346.7,212.5" fill="none" stroke="#44442f" stroke-width="0.85"/>
<path d="M330,220.8L340,216.7L346.7,212.5L353.3,217.5" fill="none" stroke="#44442f" stroke-width="0.85"/>
<path d="M353.3,217.5L373.3,224.7L373.3,213.3L375.8,213.3L375.8,187.5" fill="none" stroke="#44442f" stroke-width="0.85"/>
<path d="M375.8,213.3L400.5,213.3" fill="none" stroke="#44442f" stroke-width="0.85"/>
<path d="M330,220.8L329.2,230.8L324.2,235" fill="none" stroke="#44442f" stroke-width="0.85"/>
<path d="M282.5,234.2L283.3,230L286.7,230.8L291.7,229.2L295,232.5L294.2,238.3L291.7,239.2L289.2,239.2L285.8,237.5L283.3,238.3Z" fill="#c7cd88" stroke="#44442f" stroke-width="0.6"/>
<path d="M283.3,235.3L290,235.2L290,236.7L283.3,236.8Z" fill="#dddeb3" stroke="#44442f" stroke-width="0.5"/>
<path d="M283.3,238.3L285.8,237.5L289.2,239.2L288.3,240.8L285.8,243.3Z" fill="#9da975" stroke="#44442f" stroke-width="0.6"/>
<path d="M285.8,243.3L288.3,240.8L289.2,239.2L291.7,239.2L294.2,238.3L300.8,238.3L302.5,242.5L302.5,245.8L301.7,248.3L300,253.3L296.7,250.8L295,247.5L291.7,247.5L290,250Z" fill="#c7cd88" stroke="#44442f" stroke-width="0.6"/>
<path d="M290,250L291.7,247.5L295,247.5L296.7,250.8L293.3,254.2Z" fill="#abba44" stroke="#44442f" stroke-width="0.6"/>
<path d="M293.3,254.2L296.7,250.8L300,253.3L303.3,256.7L305,260.8L301.7,260.8L296.7,257.5Z" fill="#9da975" stroke="#44442f" stroke-width="0.6"/>
<path d="M300,253.3L301.7,248.3L302.5,245.8L302.5,242.5L307.5,242.5L310.8,245.5L314.2,245L315,250L314.7,260L310.8,260L305,260.8L303.3,256.7Z" fill="#c7cd88" stroke="#44442f" stroke-width="0.6"/>
<path d="M314.2,245L311.7,243.3L318.3,242.5L322.5,244.7L322.2,259.2L318.3,260L314.7,260L315,250Z" fill="#c7cd88" stroke="#44442f" stroke-width="0.6"/>
<path d="M322.5,244.7L324.7,244.7L325,259.7" fill="none" stroke="#44442f" stroke-width="0.85"/>
<path d="M324.7,244.7L328.3,243.3" fill="none" stroke="#44442f" stroke-width="0.85"/>
<path d="M307.5,242.5L310,240L313.3,236.7L320,235L324.2,235L326.7,238.3L328.3,243.3" fill="none" stroke="#44442f" stroke-width="0.85"/>
<path d="M300.8,238.3L299,236L295,232.5" fill="none" stroke="#44442f" stroke-width="0.85"/>
<path d="M326.7,252.5L328.3,243.3L326.7,238.3L332.5,237.5L336.7,235.8L343.3,236.7L349.2,235L352.5,241.7L351.7,246.7L348.3,251.7L345,255L340.8,260L337.5,262.5L333.3,262.5L330.8,260.8L328.3,258.3L326.7,256.7Z" fill="#abba44" stroke="#44442f" stroke-width="0.95"/>
<path d="M353.3,217.5L373.3,224.7L372.5,235L370,240L371.7,245.8L368.3,247.5L361.7,250.8L355.8,252.5L353.3,247.5L355,244.2L352.5,241.7L349.2,235L352.5,230L355,223.3Z" fill="#c7cd88" stroke="#44442f" stroke-width="0.95"/>
<path d="M337.5,262.5L340.8,260L345,255L348.3,251.7L351.7,246.7L352.5,241.7L355,244.2L353.3,247.5L355.8,252.5L355,258.3L356.7,264.2L353.3,266.7L341.7,267.5L340,265Z" fill="#c7cd88" stroke="#44442f" stroke-width="0.95"/>
<path d="M355.8,252.5L361.7,250.8L368.3,247.5L371.7,245.8L374.2,245.8L378.3,250L380.8,255L382.5,259.2L376.7,260.8L370.8,262.5L367.5,260.8L363.3,263.3L360,265L356.7,264.2L355,258.3Z" fill="#62782a" stroke="#44442f" stroke-width="0.95"/>
<path d="M341.7,267.5L346.7,268L342.5,269.2L341.7,268.5Z" fill="#abba44" stroke="#44442f" stroke-width="0.5"/>
<path d="M341.7,272.5L342.5,269.2L346.7,268L353.3,268L353.3,273.3L352.5,279.2L349.2,282.5L345.8,284.2L342.5,280.8L340.8,276.7Z" fill="#62782a" stroke="#44442f" stroke-width="0.95"/>
<path d="M353.3,268L353.3,266.7L356.7,264.2L360,265L363.3,263.3L367.5,260.8L370.8,262.5L376.7,260.8L382.5,259.2L386.7,261.7L390,265L389.2,270L387.5,275L386.7,280.8L387.5,286.7L389.2,293.3L390.8,296.7L394.2,299.2L396.7,301.7L395.8,305.8L396.7,312.5L394.2,314.2L392.5,320L388.3,317.5L383.3,320L378.3,325L375.8,322.5L375,320.8L370,321.7L346.7,320.8L347.5,313.3L349.2,305L349.2,300L349.2,293.3L347.5,288.3L345.8,284.2L349.2,282.5L352.5,279.2L353.3,273.3Z" fill="#9da975" stroke="#44442f" stroke-width="0.95"/>
<path d="M347.5,288.3L348.3,287.5L352.5,284.2L356.7,280L360,275L362.5,270L363.3,263.3" fill="none" stroke="#44442f" stroke-width="0.85"/>
<path d="M349.2,293.3L350,290L358.3,290.8L360.8,295L365,303.3L370,304.2L370,309.2L375,309.2L375.8,305" fill="none" stroke="#44442f" stroke-width="0.85"/>
<path d="M370,309.2L370.8,315L370,321.7" fill="none" stroke="#44442f" stroke-width="0.85"/>
<path d="M375.8,305L380,305.8L385,309.2L388.3,307.5L385.8,302.5L386.7,297.5L390.8,296.7" fill="none" stroke="#44442f" stroke-width="0.85"/>
<path d="M376.7,250.8L378.3,246.7L386.7,245L391.7,247.5L398.3,245.8L399.2,246.7L398.3,251.7L400.8,255L403.3,258.3L400,260.8L398.3,263.3L393.3,262.5L390,265L386.7,261.7L382.5,259.2L380.8,255L378.3,250Z" fill="#dddeb3" stroke="#44442f" stroke-width="0.95"/>
<path d="M402.5,236.7L405.8,233.3L409.2,235L413,238.5L416.2,242.8L418.3,246.7L421.7,249.2L426.7,251.7L423.3,255L420.8,260L415.8,262.5L413.3,263.3L406.7,263.3L400,260.8L403.3,258.3L400.8,255L398.3,251.7L399.2,246.7L400,241.7Z" fill="#c7cd88" stroke="#44442f" stroke-width="0.95"/>
<path d="M402.5,236.7L404.5,228L405.3,221.5" fill="none" stroke="#44442f" stroke-width="0.85"/>
<path d="M418.3,242.5L420.5,244.4L425,243.3L430,241.7L433.8,241L433.5,246.5L431.5,252L428.5,258L425.9,263.5L421.5,269L416.3,276.8L413.8,281L413.3,276.7L414.2,270L415.8,262.5L420.8,260L423.3,255L426.7,251.7L421.7,249.2L418.3,246.7Z" fill="#abba44" stroke="#44442f" stroke-width="0.95"/>
<path d="M398.3,263.3L400,260.8L406.7,263.3L413.3,263.3L415.8,262.5L414.2,270L413.3,276.7L413.8,281L410.8,285L406.7,282.5L400.8,278.3L398.3,277.5L397.5,273.3L399.2,268.3Z" fill="#abba44" stroke="#44442f" stroke-width="0.95"/>
<path d="M390,265L393.3,262.5L398.3,263.3L399.2,268.3L397.5,273.3L392.5,275L389.2,275L387.5,275L389.2,270Z" fill="#abba44" stroke="#44442f" stroke-width="0.95"/>
<path d="M391.7,280.8L394.2,280.8L398.3,278.3L398.3,277.5L400.8,278.3L406.7,282.5L410.8,285L409.2,290L410.8,295L411.7,300.8L406.7,303.3L400.8,304.2L396.7,301.7L394.2,299.2L390.8,296.7L389.2,293.3L387.5,286.7L388.3,282.5Z" fill="#abba44" stroke="#44442f" stroke-width="0.95"/>
<path d="M387.5,275L389.2,275L391.7,276.5L391.7,280.8L388.3,282.5L387.5,286.7L386.7,280.8Z" fill="#dddeb3" stroke="#44442f" stroke-width="0.5"/>
<path d="M392.5,275L397.5,274.2L398.3,278.3L394.2,280.8L391.7,278.3Z" fill="#ffffff" stroke="#44442f" stroke-width="0.6"/>
<path d="M400.8,304.2L406.7,303.3L411.7,300.8L411.7,305L412.5,310.8L410.8,317.5L407.5,321.7L401.7,325.8L399.2,330L399.2,336.7L396.7,334L392.5,331.7L394.2,326.7L392.5,320L394.2,314.2L396.7,312.5L398.3,315.8L400,317.5L400.8,311.7L399.2,305L396.7,301.7Z" fill="#62782a" stroke="#44442f" stroke-width="0.95"/>
<path d="M396.7,301.7L399.2,305L400.8,311.7L400,317.5L398.3,315.8L397.5,312.5L396.7,312.5L395.8,305.8Z" fill="#c7cd88" stroke="#44442f" stroke-width="0.5"/>
<path d="M378.3,325L383.3,320L388.3,317.5L392.5,320L394.2,326.7L392.5,331.7L390,335L387.5,335L383.3,330Z" fill="#abba44" stroke="#44442f" stroke-width="0.95"/>
<path d="M346.7,320.8L370,321.7L375,320.8L375.8,322.5L369.2,323.3L368.3,325.8L365.8,336.7L365,350L359.2,352.5L358.3,351.7L355.8,343.3L352.5,335L349.2,326.7Z" fill="#62782a" stroke="#44442f" stroke-width="0.95"/>
<path d="M368.3,325.8L369.2,323.3L375.8,322.5L378.3,325L383.3,330L387.5,335L385,337.5L380,340.8L375.8,343.3L370.8,344.2L367.5,345.8L365.8,336.7Z" fill="#abba44" stroke="#44442f" stroke-width="0.95"/>
<path d="M359.2,352.5L365,350L365.8,336.7L367.5,345.8L370.8,344.2L375.8,343.3L380,340.8L385,337.5L387.5,335L390,335L392.5,331.7L396.7,334L399.2,336.7L397.2,341.1L393.5,344.4L391.9,347.8L390.8,353.9L387.8,358.9L384.4,363.3L378.9,367L371.1,368.9L363.9,371L361.6,371.6L360.8,367.5L360,360L358.3,351.7Z" fill="#62782a" stroke="#44442f" stroke-width="0.95"/>
<circle cx="384.7" cy="353.3" r="1.5" fill="#62782a" stroke="#44442f" stroke-width="0.5"/>
<path d="M416.7,334.2L419.2,326.7L420.8,320.8L425.8,315.8L430,308.3L432.5,307.5L434.2,312.5L432.5,320L430,328.3L427.5,335.8L424.2,342.5L420,343.3L417.5,340.8Z" fill="#abba44" stroke="#44442f" stroke-width="0.95"/>
<path d="M416.7,307.3L419.2,307.3L419,308.8L416.9,308.8Z" fill="#9f9f9f" stroke="#555" stroke-width="0.4"/>
<circle cx="333" cy="273" r="0.7" fill="#666" stroke="#555" stroke-width="0.3"/>
<circle cx="268.5" cy="233.5" r="0.6" fill="#666" stroke="#555" stroke-width="0.3"/>
<path d="M439.3,326.7L440.7,326.7L440.7,328.3L439.3,328.3Z" fill="#bbb" stroke="#555" stroke-width="0.4"/>
<path d="M446,324.2L447.4,324.2L447.4,325.8L446,325.8Z" fill="#bbb" stroke="#555" stroke-width="0.4"/>
<circle cx="452.5" cy="287" r="1.3" fill="#e8e8d8" stroke="#777" stroke-width="0.6"/>
<path d="M416.4,241.3L418.3,242.5L418.6,245.3L416.3,244.6Z" fill="#abba44" stroke="#44442f" stroke-width="0.5"/>
<path d="M385,247.3L387.3,247L387.5,249L385.5,249.3Z" fill="#8f9370" stroke="#666" stroke-width="0.4"/>
<path d="M535,259.2L538.3,259.2L543.3,265L549.2,271.7L553.3,277.5L557.5,282.5L558.5,285.5L557.5,289.2L553.3,287.5L549.2,281.7L545.8,277L542.5,272.5L538.3,265.8L535.8,261.7Z" fill="#9da975" stroke="#44442f" stroke-width="0.95"/>
<path d="M559.2,277.5L561.7,279.2L560,280.3Z" fill="#9da975" stroke="#44442f" stroke-width="0.5"/>
<path d="M545,256.7L547.5,255.8L550.8,257.5L553.3,261.7L555,266.7L554.2,269.2L550.8,265.8L547.5,262.5L545,259.2Z" fill="#dddeb3" stroke="#44442f" stroke-width="0.6"/>
<circle cx="554.5" cy="268.6" r="1.5" fill="#e6e6cc" stroke="#777" stroke-width="0.6"/>
<path d="M566.7,270L570,267.5L574.2,264.2L577.5,260.8L580.8,256.7L584.2,254.2L589.2,257.5L587.5,261.7L585.8,265L586.7,270L585.8,275.8L585,279L582.5,281.7L578.3,284.2L573.3,282.5L569.2,280L566.7,275Z" fill="#9da975" stroke="#44442f" stroke-width="0.95"/>
<path d="M570,267.5L574.2,264.2L577.5,260.8L580.8,256.7L582,258.5L584.2,262.5L580.8,263.3L576.7,265.8L573.3,268.3Z" fill="#dddeb3" stroke="#44442f" stroke-width="0.6"/>
<path d="M580.8,256.7L584.2,254.2L589.2,257.5L587.5,261.7L584.2,262.5L582,258.5Z" fill="#eeeedd" stroke="#44442f" stroke-width="0.6"/>
<path d="M556.7,291.7L560.8,290.8L568.3,292.5L575,294.2L577.5,296.7L574.2,298.3L568.3,296.7L561.7,295L557.5,294.2Z" fill="#9da975" stroke="#44442f" stroke-width="0.6"/>
<path d="M578.3,296L585,296.8L592,297L598.3,296.8L604,296L608.3,294.8L608.5,295.8L604,297.4L598.3,298.3L592,298.5L585,298.3L578.3,297.3Z" fill="#9da975" stroke="#44442f" stroke-width="0.5"/>
<path d="M589.2,300L593.3,300.8L592.5,302.5L589.2,301.7Z" fill="#9da975" stroke="#44442f" stroke-width="0.5"/>
<path d="M598.3,302.5L600.8,299.2L605.8,298.3L607.5,300L603.3,302.5L600,303.7Z" fill="#9da975" stroke="#44442f" stroke-width="0.6"/>
<path d="M613.5,295.8L615,295.6" fill="none" stroke="#44442f" stroke-width="1"/>
<path d="M618.5,295L619.8,294.8" fill="none" stroke="#44442f" stroke-width="1"/>
<path d="M590,280.8L591.7,273.3L595,270L602.5,269.2L602.5,271.7L597.5,272.5L595.8,275.8L599.2,277.5L598.3,280L595.8,279.2L596.7,282L598.3,285L595.8,285.8L594.2,283.3L593.3,289.2L590.8,290L590,285.8Z" fill="#9da975" stroke="#44442f" stroke-width="0.6"/>
<path d="M609.2,267.5L610.8,268.3L611.7,274.2L610,276.7L608.7,271.7Z" fill="#9da975" stroke="#44442f" stroke-width="0.5"/>
<path d="M605.8,283L609.2,283.3L609.2,284.6L605.8,284.3Z" fill="#9da975" stroke="#44442f" stroke-width="0.4"/>
<path d="M610,283.2L616.7,283.8L616.7,285L610,284.5Z" fill="#9da975" stroke="#44442f" stroke-width="0.4"/>
<path d="M587.5,218.3L590.8,217.5L593.3,220.8L593.3,226.7L595.8,230L596.7,232.5L593.3,233.3L590,230.8L587.5,227.5L586.7,222.5Z" fill="#62782a" stroke="#44442f" stroke-width="0.6"/>
<path d="M597.5,249.2L600.8,245.8L605,245.8L606.7,249.2L605,254.2L602.5,255L600.8,251.7L598.3,251.7Z" fill="#62782a" stroke="#44442f" stroke-width="0.6"/>
<path d="M584.2,247.5L588.3,240.8L589.2,242.5L585.8,248.3Z" fill="#62782a" stroke="#44442f" stroke-width="0.5"/>
<path d="M594.2,238.3L595.8,238L596,241.5L594.6,241.7Z" fill="#62782a" stroke="#44442f" stroke-width="0.4"/>
<path d="M596.7,235.8L598.3,236L598.3,238.5L597,238.3Z" fill="#62782a" stroke="#44442f" stroke-width="0.4"/>
<path d="M599.7,236.7L601.3,236.9L601.5,241.5L600,241.7Z" fill="#62782a" stroke="#44442f" stroke-width="0.4"/>
<path d="M595.8,242.5L597.5,242.7L597.5,245L596,244.8Z" fill="#62782a" stroke="#44442f" stroke-width="0.4"/>
<path d="M618.3,276.7L620.8,274.7L623.3,277.5L624.2,280.8L629.2,280L631.7,278.3L635.8,280.8L641.7,282.5L646.7,286.7L650,288.3L652.4,294.9L655.8,304.9L652.4,304.9L648.3,300.7L645,296.7L640.8,298.3L640,300.8L635.8,299.2L634.2,296.7L632.5,292.5L628.3,288.3L624.2,285.8L620,285L619.2,280.8Z" fill="#9da975" stroke="#44442f" stroke-width="0.95"/>
<path d="M638.7,281.5L638.3,290L637.5,299.5" fill="none" stroke="#44442f" stroke-width="0.85"/>
<path d="M654.1,290.7L657.4,291.2L661.6,287.4L662.9,284.1L660.7,282L660.7,285.8L657.4,289.1L654.6,289.6Z" fill="#9da975" stroke="#556" stroke-width="0.6"/>
<path d="M583.9,330L587.5,330L593.3,325L598.3,320.8L603.3,315.8L608.3,316.7L611.7,312.5L615.8,309.2L620.8,308.3L626.7,310.8L624.2,314.2L623.3,318.3L627.5,321.7L631.7,325L634.2,320L635.8,313.3L638.3,307.5L640,310.8L640.8,316.7L643.3,321.7L645,328.3L646.7,333.3L647.2,338.9L649.4,345.6L650.6,354.4L648.3,363.3L645,370L640.6,375.6L636.1,382.2L630.6,386.7L626.1,391.1L620.6,393.3L616.1,392.2L611.7,387.8L612.3,381.1L610.6,375.6L609.4,380L607.2,375.6L603.9,377.8L602.8,373.3L599.4,371.1L591.7,370L582.8,372.2L573.9,374.4L565,375.6L562.8,373.3L566.1,370L565,363.3L568.3,354.4L567.2,351.1L567.5,345L569.2,339.2L573.3,336.7L580,333.3Z" fill="#eeeeda" stroke="#44442f" stroke-width="0.95"/>
<path d="M610.6,401.1L613.9,398.9L618.3,400L617.2,404.4L613.9,406.7L611,405.1Z" fill="#eeeeda" stroke="#44442f" stroke-width="0.6"/>
<path d="M685,370L687.2,370L687.9,377.8L690.6,380L688.3,384.4L683.9,386.7L679.4,391.1L677.2,390L679.4,384.4L683.9,381.1L685.7,376.7Z" fill="#eeeeda" stroke="#44442f" stroke-width="0.6"/>
<path d="M652.8,401.1L659.4,397.8L666.1,393.3L671.7,388.9L675,390L673.9,393.3L667.2,397.8L660.6,402.2L655,405.6L653.2,404.4Z" fill="#eeeeda" stroke="#44442f" stroke-width="0.6"/>
<path d="M675.9,329.2L678.8,334.8" fill="none" stroke="#55554a" stroke-width="1.6"/>
<path d="M683.5,314.8L684.4,316.5L683.5,318.2L682.6,316.5Z" fill="#ddd" stroke="#555" stroke-width="0.5"/>
<circle cx="683.7" cy="319.6" r="0.3" fill="#555" stroke="#555" stroke-width="0.3"/>
<path d="M705.2,322.5L706.2,323.8" fill="none" stroke="#666" stroke-width="1"/>
<path d="M708.3,318.3L709.5,318.8" fill="none" stroke="#666" stroke-width="1"/>
<circle cx="637.5" cy="234.6" r="2" fill="#f3f3ea" stroke="#808080" stroke-width="1.0"/>
<circle cx="615.8" cy="250.6" r="2" fill="#dddeb3" stroke="#808080" stroke-width="1.0"/>
<circle cx="647.8" cy="251.3" r="2" fill="#c7cd88" stroke="#808080" stroke-width="1.0"/>
<circle cx="692.2" cy="254.5" r="2" fill="#8d9477" stroke="#808080" stroke-width="1.0"/>
<circle cx="684.3" cy="273.7" r="2" fill="#fafaf5" stroke="#808080" stroke-width="1.0"/>
<circle cx="701.1" cy="274.1" r="2" fill="#8f977a" stroke="#808080" stroke-width="1.0"/>
<circle cx="706.4" cy="293.7" r="2" fill="#a3ac6a" stroke="#808080" stroke-width="1.0"/>
<circle cx="672.4" cy="299" r="2" fill="#e9e9e0" stroke="#808080" stroke-width="1.0"/>
<circle cx="15.5" cy="297.8" r="1.9" fill="#ecece4" stroke="#808080" stroke-width="1.0"/>
<circle cx="16.7" cy="309.9" r="1.9" fill="#f4f4ee" stroke="#808080" stroke-width="1.0"/>
<circle cx="23" cy="324.3" r="1.9" fill="#e3e3d6" stroke="#808080" stroke-width="1.0"/>
<circle cx="13.4" cy="327.8" r="1.9" fill="#e3e3d6" stroke="#808080" stroke-width="1.0"/>
<circle cx="44.9" cy="331.4" r="1.9" fill="#f4f4ee" stroke="#808080" stroke-width="1.0"/>
</svg>
<div class="t" style="left:13.20px;top:11.22px;font-size:13.5px;line-height:15px;transform:scaleX(1.037);font-weight:bold;">Estimated TB</div>
<div class="t" style="left:108.00px;top:11.22px;font-size:13.5px;line-height:15px;transform:scaleX(1.005);font-weight:bold;">incidence</div>
<div class="t" style="left:176.20px;top:11.22px;font-size:13.5px;line-height:15px;transform:scaleX(1.120);font-weight:bold;">rates,</div>
<div class="t" style="left:219.60px;top:11.22px;font-size:13.5px;line-height:15px;transform:scaleX(1.120);font-weight:bold;">2018</div>
<div class="t" style="left:458.30px;top:298.65px;font-size:9.1px;line-height:15px;transform:scaleX(1.130);-webkit-text-stroke:0.2px #1a1a1a;">Incidence per 100 000</div>
<div class="t" style="left:458.30px;top:309.95px;font-size:9.1px;line-height:15px;transform:scaleX(1.135);-webkit-text-stroke:0.2px #1a1a1a;">population per year</div>
<div class="lb" style="top:326px;background:#eeeeda"></div>
<div class="t" style="left:491.90px;top:325.65px;font-size:9.1px;line-height:15px;transform:scaleX(1.123);-webkit-text-stroke:0.12px #1a1a1a;">0–9.9</div>
<div class="lb" style="top:341px;background:#dddeb3"></div>
<div class="t" style="left:491.90px;top:341.65px;font-size:9.1px;line-height:15px;transform:scaleX(1.123);-webkit-text-stroke:0.12px #1a1a1a;">10–99</div>
<div class="lb" style="top:356px;background:#c7cd88"></div>
<div class="t" style="left:491.90px;top:356.65px;font-size:9.1px;line-height:15px;transform:scaleX(1.157);-webkit-text-stroke:0.12px #1a1a1a;">100–199</div>
<div class="lb" style="top:372px;background:#abba44"></div>
<div class="t" style="left:491.90px;top:372.65px;font-size:9.1px;line-height:15px;transform:scaleX(1.157);-webkit-text-stroke:0.12px #1a1a1a;">200–299</div>
<div class="lb" style="top:387px;background:#9da975"></div>
<div class="t" style="left:491.90px;top:387.65px;font-size:9.1px;line-height:15px;transform:scaleX(1.157);-webkit-text-stroke:0.12px #1a1a1a;">300–499</div>
<div class="lb" style="top:403px;background:#62782a"></div>
<div class="t" style="left:491.90px;top:403.65px;font-size:9.1px;line-height:15px;transform:scaleX(1.205);-webkit-text-stroke:0.12px #1a1a1a;">≥500</div>
<div class="lb" style="top:418px;background:#ffffff"></div>
<div class="t" style="left:491.90px;top:418.65px;font-size:9.1px;line-height:15px;transform:scaleX(1.099);-webkit-text-stroke:0.12px #1a1a1a;">No data</div>
<div class="lb" style="top:433px;background:#9f9f9f"></div>
<div class="t" style="left:491.90px;top:433.65px;font-size:9.1px;line-height:15px;transform:scaleX(1.147);-webkit-text-stroke:0.12px #1a1a1a;">Not applicable</div>
</body></html>
